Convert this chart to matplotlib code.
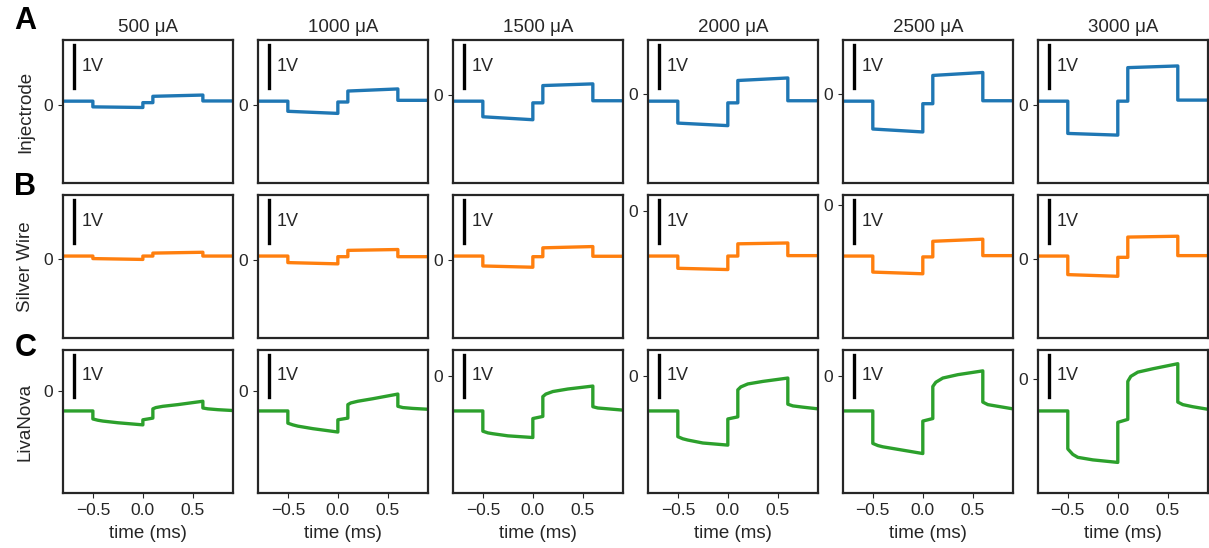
import matplotlib.pyplot as plt

plt.rcParams['font.family'] = ['Liberation Sans', 'DejaVu Sans']
plt.rcParams['text.color'] = '#262626'
plt.rcParams['axes.labelcolor'] = '#262626'
plt.rcParams['xtick.color'] = '#262626'
plt.rcParams['ytick.color'] = '#262626'

currents = [500, 1000, 1500, 2000, 2500, 3000]
row_names = ['Injectrode', 'Silver Wire', 'LivaNova']
colors = ['#1f77b4', '#ff7f0e', '#2ca02c']

# time points (ms) of the read corners
t_step = [-0.8, -0.5, -0.5, 0.0, 0.0, 0.1, 0.1, 0.6, 0.6, 0.9]
t_curve = [-0.8, -0.5, -0.5, -0.45, -0.4, -0.25, 0.0, 0.0, 0.1, 0.1,
           0.13, 0.2, 0.35, 0.6, 0.6, 0.65, 0.75, 0.9]

# voltages (V), one list per current
injectrode = [
    [0.095, 0.095, -0.04, -0.055, 0.06, 0.06, 0.21, 0.24, 0.10, 0.10],
    [0.08, 0.08, -0.16, -0.21, 0.06, 0.06, 0.32, 0.37, 0.10, 0.10],
    [-0.14, -0.14, -0.51, -0.58, -0.18, -0.18, 0.23, 0.27, -0.13, -0.13],
    [-0.17, -0.17, -0.69, -0.75, -0.21, -0.21, 0.32, 0.38, -0.16, -0.16],
    [-0.17, -0.17, -0.83, -0.90, -0.23, -0.23, 0.44, 0.51, -0.16, -0.16],
    [0.095, 0.095, -0.67, -0.71, 0.095, 0.095, 0.89, 0.93, 0.12, 0.12],
]
silver = [
    [0.08, 0.08, 0.02, 0.0, 0.08, 0.08, 0.15, 0.17, 0.08, 0.08],
    [0.095, 0.095, -0.06, -0.09, 0.08, 0.08, 0.23, 0.25, 0.08, 0.08],
    [0.095, 0.095, -0.14, -0.17, 0.08, 0.08, 0.29, 0.32, 0.09, 0.09],
    [-1.08, -1.08, -1.37, -1.40, -1.08, -1.08, -0.79, -0.77, -1.07, -1.07],
    [-1.21, -1.21, -1.59, -1.63, -1.23, -1.23, -0.86, -0.81, -1.20, -1.20],
    [0.08, 0.08, -0.36, -0.40, 0.05, 0.05, 0.53, 0.55, 0.09, 0.09],
]
livanova = [
    [-0.48, -0.48, -0.67, -0.70, -0.72, -0.76, -0.81, -0.69, -0.65,
     -0.43, -0.40, -0.37, -0.33, -0.25, -0.41, -0.43, -0.45, -0.47],
    [-0.48, -0.48, -0.77, -0.81, -0.84, -0.90, -0.98, -0.69, -0.65,
     -0.33, -0.29, -0.25, -0.19, -0.08, -0.37, -0.40, -0.42, -0.44],
    [-0.84, -0.84, -1.32, -1.36, -1.38, -1.43, -1.47, -1.02, -0.97,
     -0.50, -0.44, -0.38, -0.32, -0.25, -0.74, -0.77, -0.79, -0.82],
    [-0.84, -0.84, -1.45, -1.50, -1.53, -1.60, -1.65, -1.03, -0.98,
     -0.34, -0.27, -0.20, -0.14, -0.06, -0.68, -0.72, -0.75, -0.79],
    [-0.84, -0.84, -1.61, -1.66, -1.69, -1.75, -1.85, -1.08, -1.02,
     -0.26, -0.16, -0.06, 0.02, 0.11, -0.63, -0.69, -0.73, -0.79],
    [-0.75, -0.75, -1.65, -1.78, -1.85, -1.91, -1.97, -1.02, -0.95,
     -0.05, 0.07, 0.17, 0.25, 0.37, -0.54, -0.60, -0.65, -0.71],
]

rows = [(t_step, injectrode), (t_step, silver), (t_curve, livanova)]

fig, axes = plt.subplots(3, 6, figsize=(12.09, 5.48), dpi=100, sharex=True)
fig.subplots_adjust(left=0.052, right=0.999, top=0.927, bottom=0.100,
                    wspace=0.147, hspace=0.08)

for r, (t, data) in enumerate(rows):
    for c, v in enumerate(data):
        ax = axes[r, c]
        ax.plot(t, v, color=colors[r], lw=2.4)
        base = v[0]
        top = base + 1.45
        ax.set_ylim(base - 1.95, top)
        # 1V scale bar
        ax.plot([-0.69, -0.69], [top - 0.13, top - 1.13], color='k', lw=2.4)
        ax.text(-0.61, top - 0.62, '1V', fontsize=13, va='center')
        ax.set_yticks([0])
        ax.set_xlim(-0.8, 0.9)
        ax.set_xticks([-0.5, 0, 0.5])
        ax.tick_params(labelsize=12.5)
        for s in ax.spines.values():
            s.set_linewidth(1.6)
            s.set_color('#262626')
        if r < 2:
            ax.tick_params(bottom=False)
        else:
            ax.set_xlabel('time (ms)', fontsize=13.5, labelpad=5)
        if r == 0:
            ax.set_title(f'{currents[c]} μA', fontsize=13.5)
        if c == 0:
            ax.set_ylabel(row_names[r], fontsize=13.5)
            ax.yaxis.set_label_coords(-0.17, 0.5)

fig.text(0.021, 0.962, 'A', fontsize=22, weight='bold', ha='center', va='center', color='k')
fig.text(0.021, 0.659, 'B', fontsize=22, weight='bold', ha='center', va='center', color='k')
fig.text(0.021, 0.365, 'C', fontsize=22, weight='bold', ha='center', va='center', color='k')

plt.savefig('out.png', dpi=100)
